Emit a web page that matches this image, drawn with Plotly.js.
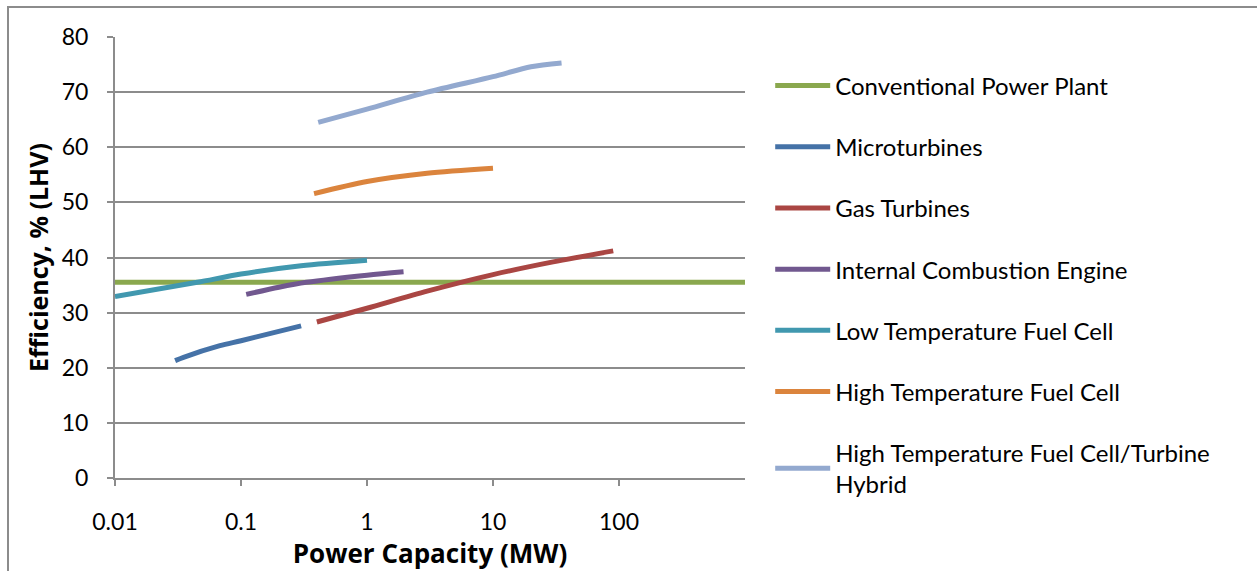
<!DOCTYPE html>
<html>
<head>
<meta charset="utf-8">
<script src="https://cdn.plot.ly/plotly-3.0.1.min.js"></script>
<style>
  html, body { margin: 0; padding: 0; background: #fff; }
  #chart { position: absolute; left: 0; top: 0; width: 1257px; height: 571px; }
  #frame { position: absolute; left: 7px; top: 6px; width: 1260px; height: 580px;
           border-left: 2px solid #8c8c8c; border-top: 2px solid #8c8c8c; pointer-events: none; }
</style>
</head>
<body>
<div id="chart"></div>
<div id="frame"></div>
<script>
// Power capacity (MW) and efficiency (% LHV) per technology
const seriesNames = [
  "Conventional Power Plant",
  "Microturbines",
  "Gas Turbines",
  "Internal Combustion Engine",
  "Low Temperature Fuel Cell",
  "High Temperature Fuel Cell",
  "High Temperature Fuel Cell/Turbine<br>Hybrid"
];
const seriesColors = ["#8AA84E", "#4572A7", "#AA4643", "#71588F", "#4198AF", "#DB843D", "#93A9CF"];

const conventionalX = [0.01, 1000];
const conventionalY = [35.5, 35.5];

const microturbinesX = [0.03, 0.035, 0.068, 0.1, 0.3];
const microturbinesY = [21.3, 21.9, 24.0, 24.9, 27.6];

const gasTurbinesX = [0.4, 1, 3, 10, 30, 90];
const gasTurbinesY = [28.3, 30.8, 33.9, 36.9, 39.2, 41.2];

const iceX = [0.11, 0.2, 0.33, 1, 1.95];
const iceY = [33.3, 34.6, 35.5, 36.8, 37.4];

const ltfcX = [0.01, 0.045, 0.1, 0.3, 1];
const ltfcY = [32.9, 35.5, 37.0, 38.5, 39.5];

const htfcX = [0.38, 1, 3, 10];
const htfcY = [51.6, 53.8, 55.3, 56.2];

const hybridX = [0.41, 1, 3, 10, 20, 35];
const hybridY = [64.5, 66.9, 70.0, 72.8, 74.6, 75.3];

const xTickVals = [0.01, 0.1, 1, 10, 100];
const xTickText = ["0.01", "0.1", "1", "10", "100"];

const allX = [conventionalX, microturbinesX, gasTurbinesX, iceX, ltfcX, htfcX, hybridX];
const allY = [conventionalY, microturbinesY, gasTurbinesY, iceY, ltfcY, htfcY, hybridY];

const FONT = "Lato, 'Open Sans', sans-serif";
const TITLEFONT = "'Open Sans', Lato, sans-serif";
const GRAY = "#8c8c8c";

const traces = seriesNames.map((name, i) => ({
  type: "scatter",
  mode: "lines",
  name: name,
  legendgroup: "g" + i,
  x: allX[i],
  y: allY[i],
  line: { color: seriesColors[i], width: 5, shape: "spline", smoothing: 0.8 },
  hoverinfo: "x+y+name"
}));

const layout = {
  width: 1257,
  height: 571,
  margin: { l: 115, r: 512, t: 37, b: 93 },
  paper_bgcolor: "#ffffff",
  plot_bgcolor: "#ffffff",
  font: { family: FONT, size: 24, color: "#000" },
  showlegend: true,
  legend: {
    x: 1.04, xanchor: "left",
    y: 0.94, yanchor: "top",
    tracegroupgap: 27,
    itemwidth: 55,
    font: { family: FONT, size: 24, color: "#000" },
    bgcolor: "rgba(0,0,0,0)"
  },
  xaxis: {
    type: "log",
    range: [-2, 3],
    tickvals: xTickVals,
    ticktext: xTickText,
    showgrid: false,
    zeroline: false,
    showline: true,
    linecolor: GRAY,
    linewidth: 2,
    ticks: "outside",
    ticklen: 6,
    tickwidth: 2,
    tickcolor: GRAY,
    ticklabelstandoff: 16,
    tickfont: { family: FONT, size: 23, color: "#000" },
    title: { text: "<b>Power Capacity (MW)</b>", font: { family: TITLEFONT, size: 26, color: "#000" }, standoff: 3 }
  },
  yaxis: {
    range: [0, 80],
    dtick: 10,
    showgrid: true,
    gridcolor: GRAY,
    gridwidth: 2,
    zeroline: false,
    showline: true,
    linecolor: GRAY,
    linewidth: 2,
    ticks: "outside",
    ticklen: 6,
    tickwidth: 2,
    tickcolor: GRAY,
    ticklabelstandoff: 14,
    tickfont: { family: FONT, size: 23, color: "#000" },
    title: { text: "<b>Efficiency, % (LHV)</b>", font: { family: TITLEFONT, size: 25, color: "#000" }, standoff: 6 }
  }
};

Plotly.newPlot("chart", traces, layout, { displayModeBar: false, staticPlot: true });
</script>
</body>
</html>
